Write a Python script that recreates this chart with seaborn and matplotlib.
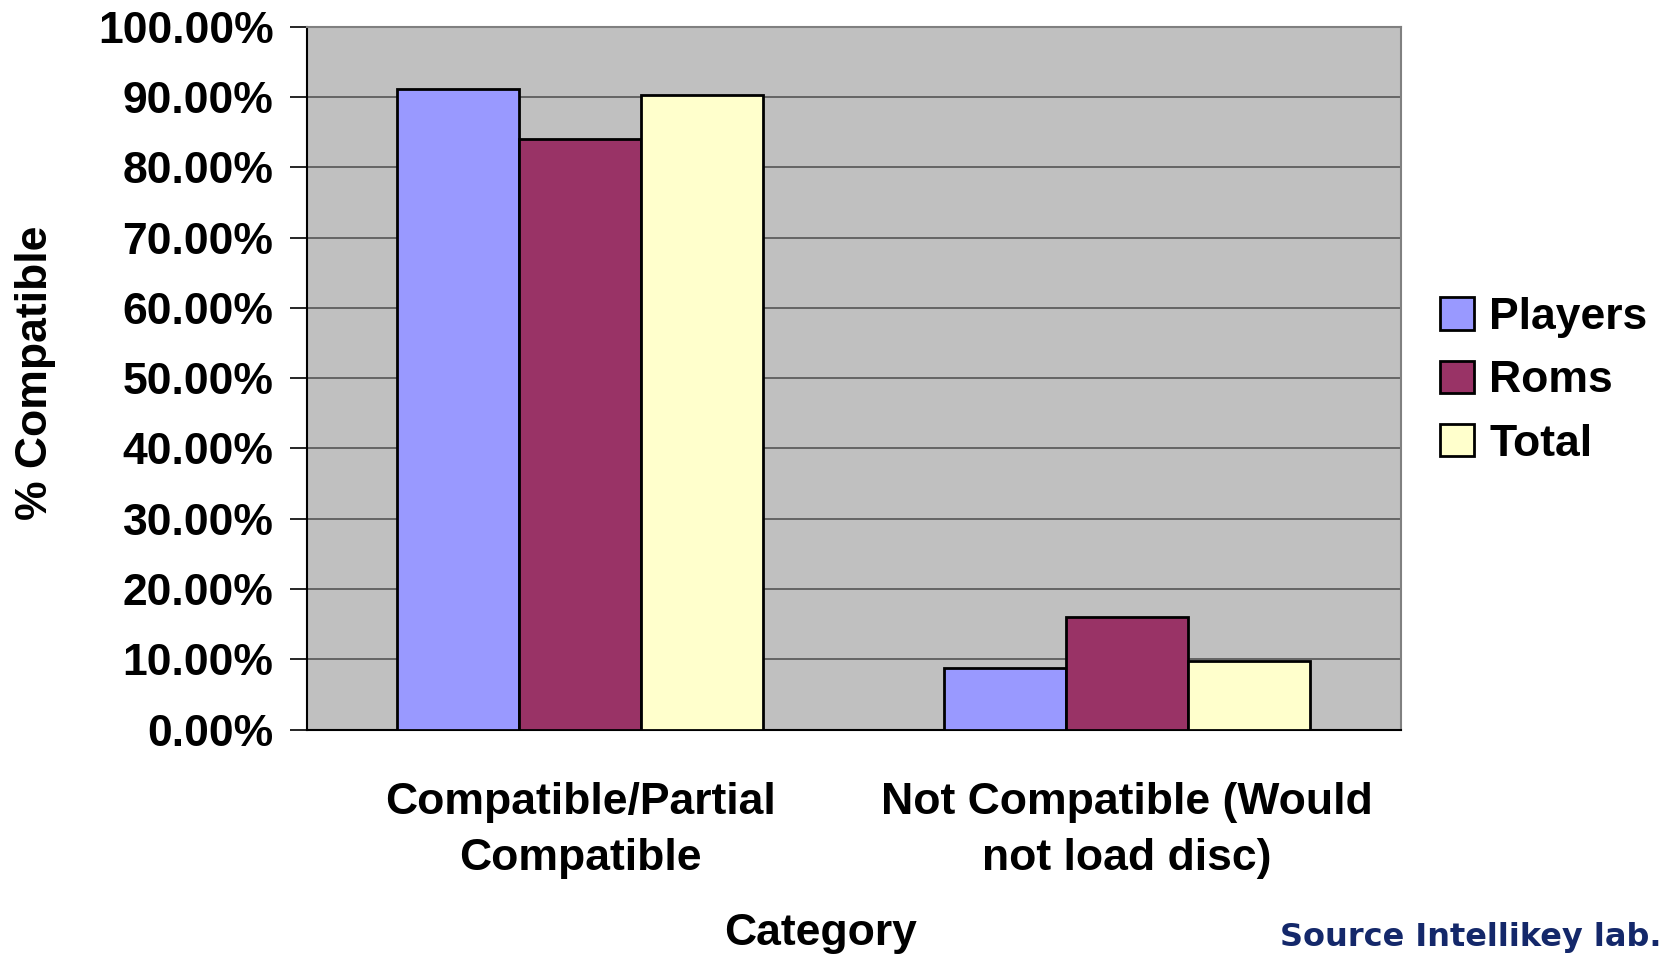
import pandas as pd
import seaborn as sns
import matplotlib.pyplot as plt
import matplotlib
from matplotlib.ticker import FuncFormatter, MultipleLocator
matplotlib.use('Agg')

# data
categories = ["Compatible/Partial\nCompatible", "Not Compatible (Would\nnot load disc)"]
series = ["Players", "Roms", "Total"]
players = [91.2, 8.8]
roms = [84.0, 16.0]
total = [90.25, 9.75]
colors = ["#9999FF", "#993366", "#FFFFCC"]

rows = []
for name, vals in zip(series, [players, roms, total]):
    for c, v in zip(categories, vals):
        rows.append({"Category": c, "Series": name, "Value": v})
df = pd.DataFrame(rows)

sns.set_style("white")
plt.rcParams['font.family'] = ['Liberation Sans', 'DejaVu Sans']
plt.rcParams['font.weight'] = 'bold'
plt.rcParams['text.color'] = 'black'
plt.rcParams['xtick.color'] = 'black'
plt.rcParams['ytick.color'] = 'black'
plt.rcParams['axes.labelcolor'] = 'black'

fs = 32
fig = plt.figure(figsize=(16.7, 9.55), dpi=100)
ax = fig.add_axes([0.1837, 0.236, 0.655, 0.736])
ax.set_facecolor("#C0C0C0")

sns.barplot(data=df, x="Category", y="Value", hue="Series", palette=colors,
            width=0.67, edgecolor="black", linewidth=2, saturation=1, ax=ax, zorder=3)

ax.set_ylim(0, 100)
ax.set_xlim(-0.5, 1.5)
ax.yaxis.set_major_locator(MultipleLocator(10))
ax.yaxis.set_major_formatter(FuncFormatter(lambda v, p: f"{v:.2f}%"))
ax.grid(axis="y", color="#555555", linewidth=1.2, zorder=0)
ax.set_axisbelow(True)

# Excel-style ticks between categories
ax.set_xticks([-0.5, 0.5, 1.5])
ax.set_xticklabels([])
ax.set_xticks([0, 1], minor=True)
ax.set_xticklabels(categories, minor=True, fontsize=fs, fontweight="bold", linespacing=1.45)
ax.tick_params(axis="x", which="minor", length=0, pad=38)
ax.tick_params(axis="x", which="major", length=10, width=1.2, color="black", direction="out")
ax.tick_params(axis="y", length=12, width=1.2, labelsize=fs, pad=12, direction="out", left=True)
for lab in ax.get_yticklabels():
    lab.set_fontweight("bold")

for s in ["left", "bottom"]:
    ax.spines[s].set_color("black")
    ax.spines[s].set_linewidth(1.5)
for s in ["top", "right"]:
    ax.spines[s].set_color("#808080")
    ax.spines[s].set_linewidth(1.5)

ax.set_ylabel("")
ax.set_xlabel("Category", fontsize=fs, fontweight="bold")
ax.xaxis.set_label_coords(0.47, -0.261)
fig.text(0.021, 0.61, "% Compatible", rotation=90, ha="center", va="center",
         fontsize=fs, fontweight="bold")

handles, labels = ax.get_legend_handles_labels()
ax.legend(handles, labels, loc="center left", bbox_to_anchor=(1.02, 0.496), frameon=False,
          prop={"size": fs, "weight": "bold"}, handlelength=0.75, handleheight=0.75,
          handletextpad=0.35, labelspacing=0.5, borderaxespad=0)

fig.text(0.995, 0.002, "Source Intellikey lab.", ha="right", va="bottom",
         fontsize=23, fontweight="bold", color="#14286A", family="DejaVu Sans")

plt.savefig("out.png", dpi=100)
